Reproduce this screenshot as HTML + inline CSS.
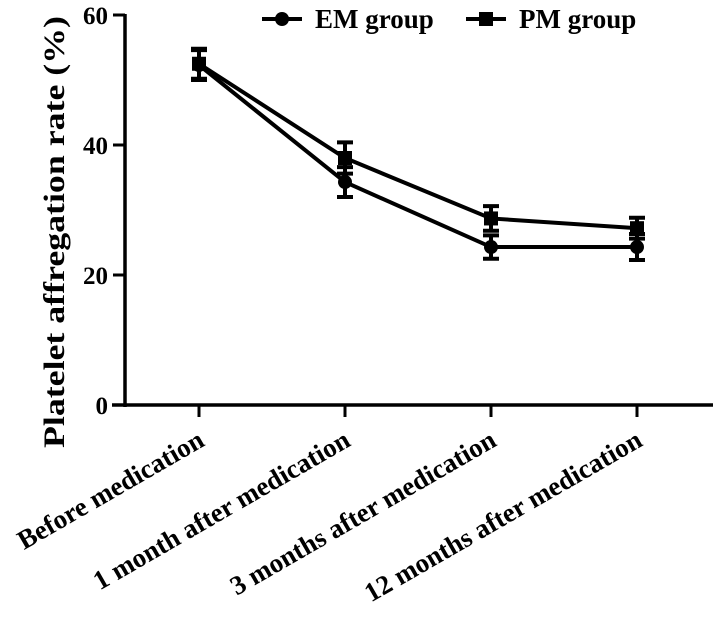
<!DOCTYPE html>
<html><head><meta charset="utf-8"><style>
body{margin:0;background:#fff;}
svg{display:block;font-family:"Liberation Serif",serif;font-weight:bold;}
</style></head><body>
<svg id="chart" width="724" height="617" viewBox="0 0 724 617" xmlns="http://www.w3.org/2000/svg">
<g id="axes"></g><g id="series"></g><g id="legend"></g>
</svg>
<script>
const categories=["Before medication","1 month after medication","3 months after medication","12 months after medication"];
const emValues=[52.3,34.3,24.3,24.3];
const emErr=[2.3,2.3,1.8,2.0];
const pmValues=[52.5,38.0,28.7,27.2];
const pmErr=[2.3,2.4,1.9,1.6];
const yTicks=[0,20,40,60];
const NS="http://www.w3.org/2000/svg";
const y0=405,yTop=15,xs0=199,xStep=146;
function yScale(v){return y0-(v/60)*(y0-yTop);}
function xScale(i){return xs0+i*xStep;}
function mk(tag,attrs,parent,text){const e=document.createElementNS(NS,tag);for(const k in attrs)e.setAttribute(k,attrs[k]);if(text!==undefined)e.textContent=text;parent.appendChild(e);return e;}
const axes=document.getElementById('axes'),series=document.getElementById('series'),legend=document.getElementById('legend');
let e;
e=mk('line',{x1:125,y1:y0+2,x2:125,y2:yTop-1,stroke:'#000','stroke-width':3.5},axes);


e=mk('line',{x1:112,y1:y0,x2:713,y2:y0,stroke:'#000','stroke-width':3.5},axes);


yTicks.forEach(t=>{
 const y=yScale(t);
 e=mk('line',{x1:113,y1:y,x2:125,y2:y,stroke:'#000','stroke-width':3},axes);
 
 
 e=mk('text',{x:108,y:y+9,'text-anchor':'end','font-size':25},axes,String(t));
 
 
});
categories.forEach((c,i)=>{
 const x=xScale(i);
 e=mk('line',{x1:x,y1:y0,x2:x,y2:y0+12,stroke:'#000','stroke-width':3},axes);
 
 
 e=mk('text',{x:x+7,y:y0+40,'text-anchor':'end','font-size':27,transform:`rotate(-30 ${x+7} ${y0+40})`},axes,c);
 
 
});
e=mk('text',{x:0,y:0,'text-anchor':'middle','font-size':30,textLength:432,lengthAdjust:'spacingAndGlyphs',transform:'translate(64 232) rotate(-90)'},axes,'Platelet affregation rate (%)');


function drawSeries(vals,errs,marker,name){
 const g=mk('g',{},series);
 
 
 e=mk('polyline',{points:vals.map((v,i)=>xScale(i)+','+yScale(v)).join(' '),fill:'none',stroke:'#000','stroke-width':4},g);
 
 
 vals.forEach((v,i)=>{
  const x=xScale(i),y=yScale(v),yt=yScale(v+errs[i]),yb=yScale(v-errs[i]);
  e=mk('path',{d:`M${x},${yt}V${yb}M${x-8},${yt}H${x+8}M${x-8},${yb}H${x+8}`,stroke:'#000','stroke-width':4,fill:'none'},g);
  
  
  if(marker==='circle'){e=mk('circle',{cx:x,cy:y,r:7,fill:'#000'},g);}
  else{e=mk('rect',{x:x-7,y:y-7,width:14,height:14,fill:'#000'},g);}
  
  
 });
}
drawSeries(emValues,emErr,'circle','em');
drawSeries(pmValues,pmErr,'square','pm');
function legendEntry(x,label,marker,name){
 const g=mk('g',{},legend);
 
 
 mk('line',{x1:x,y1:19,x2:x+40,y2:19,stroke:'#000','stroke-width':4},g);
 if(marker==='circle')mk('circle',{cx:x+20,cy:19,r:7,fill:'#000'},g);
 else mk('rect',{x:x+13,y:12,width:14,height:14,fill:'#000'},g);
 mk('text',{x:x+53,y:28,'font-size':27},g,label);
}
legendEntry(262,'EM group','circle','em');
legendEntry(466,'PM group','square','pm');
</script>
</body></html>
